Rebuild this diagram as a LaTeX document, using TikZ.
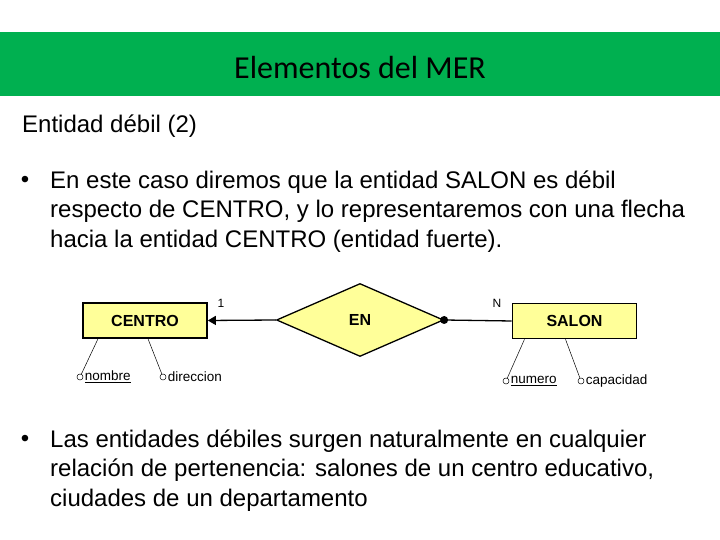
\documentclass[tikz,border=0pt]{standalone}
\usepackage{fontspec}
\setmainfont{Liberation Sans}
\newfontfamily\titlefont{Carlito}
\usetikzlibrary{shapes.geometric, arrows.meta, positioning}
\definecolor{slidegreen}{RGB}{0,176,80}
\definecolor{eryellow}{RGB}{255,255,153}
\tikzset{
    bullettext/.style={anchor=north west, align=left, inner sep=0pt, font=\fontsize{24}{29.5}\selectfont},
    entidad/.style={rectangle, draw=black, line width=1.6pt, fill=eryellow, minimum width=124pt, minimum height=35pt, inner sep=0pt, font=\fontsize{16}{18}\selectfont\bfseries},
    relacion/.style={diamond, draw=black, line width=1.3pt, fill=eryellow, minimum width=167pt, minimum height=73pt, inner sep=0pt, font=\fontsize{16}{18}\selectfont\bfseries},
    atrib/.style={circle, draw=black, line width=0.5pt, fill=white, minimum size=6pt, inner sep=0pt},
    atrlabel/.style={right=1.5pt of #1, inner sep=0pt, font=\fontsize{13.5}{15}\selectfont},
    card/.style={inner sep=0pt, font=\fontsize{12}{14}\selectfont},
    attrline/.style={black, line width=0.5pt},
}
\begin{document}
\begin{tikzpicture}[x=1pt, y=1pt]
\useasboundingbox (0,0) rectangle (720,540);

% Header bar
\fill[slidegreen] (0,508) rectangle (720,444);
\node[font=\titlefont\fontsize{32}{36}\selectfont] (title) at (360,472) {Elementos del MER};

% Subtitle and first bullet
\node[anchor=west, inner sep=0pt, font=\fontsize{24}{28}\selectfont] (subtitle) at (22,414) {Entidad débil (2)};
\node[inner sep=0pt, font=\fontsize{24}{28}\selectfont] (b1) at (25,358) {•};
\node[bullettext] (b1-text) at (50,369.5) {En este caso diremos que la entidad SALON es débil\\respecto de CENTRO, y lo representaremos con una flecha\\hacia la entidad CENTRO (entidad fuerte).};

% ER diagram
\node[entidad] (centro) at (145,219.5) {CENTRO};
\node[relacion] (en) at (360,220) {EN};
\node[entidad] (salon) at (574.5,219) {SALON};
\fill (en.east) circle (4pt);
\draw[line width=1.3pt, -{Triangle[length=8pt, width=9pt]}] (en.west) -- (centro.east);
\draw[line width=1.3pt] (en.east) -- (salon.west);
\node[card] (card1) at (221,237) {1};
\node[card] (cardN) at (497,237) {N};

% Attributes
\node[atrib] (a-nombre) at (80,163) {};
\node[atrib] (a-direccion) at (163,163) {};
\node[atrib] (a-numero) at (506,159) {};
\node[atrib] (a-capacidad) at (581,159) {};
\node[atrlabel=a-nombre] (l-nombre) {\underline{nombre}};
\node[atrlabel=a-direccion] (l-direccion) {direccion};
\node[atrlabel=a-numero] (l-numero) {\underline{numero}};
\node[atrlabel=a-capacidad] (l-capacidad) {capacidad};
\draw[attrline] ([xshift=-47pt]centro.south) -- (a-nombre);
\draw[attrline] ([xshift=3pt]centro.south) -- (a-direccion);
\draw[attrline] ([xshift=-50pt]salon.south) -- (a-numero);
\draw[attrline] ([xshift=-9pt]salon.south) -- (a-capacidad);

% Second bullet
\node[inner sep=0pt, font=\fontsize{24}{28}\selectfont] (b2) at (25,99) {•};
\node[bullettext] (b2-text) at (50,110.5) {Las entidades débiles surgen naturalmente en cualquier\\relación de pertenencia: salones de un centro educativo,\\ciudades de un departamento};
\end{tikzpicture}
\end{document}
